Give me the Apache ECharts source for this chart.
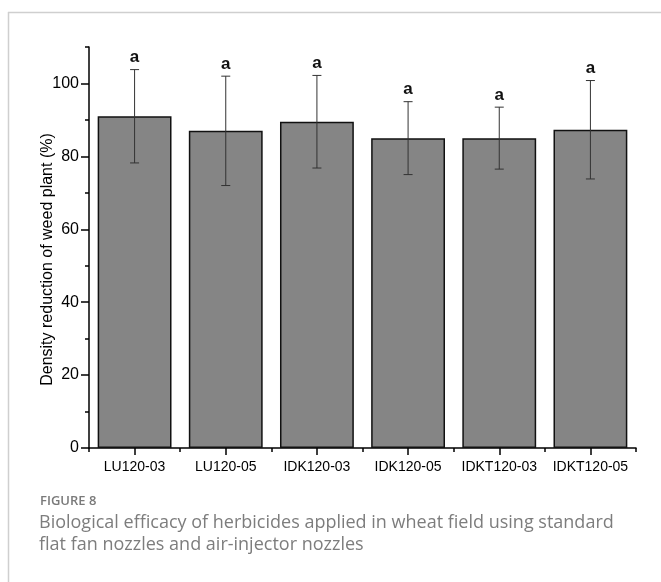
<!DOCTYPE html>
<html>
<head>
<meta charset="utf-8">
<script src="https://cdn.jsdelivr.net/npm/echarts@6/dist/echarts.min.js"></script>
<style>
  html, body { margin: 0; padding: 0; background: #fff; }
  #chart { width: 661px; height: 582px; }
</style>
</head>
<body>
<div id="chart"></div>
<script>
// data
var categories = ['LU120-03', 'LU120-05', 'IDK120-03', 'IDK120-05', 'IDKT120-03', 'IDKT120-05'];
var means = [91.0, 87.0, 89.5, 85.0, 85.0, 87.3];
var errors = [12.8, 15.0, 12.7, 10.0, 8.5, 13.5];
var letters = ['a', 'a', 'a', 'a', 'a', 'a'];
var yMajorTicks = [0, 20, 40, 60, 80, 100];
var yMinorTicks = [10, 30, 50, 70, 90, 110];

var errData = means.map(function (m, i) {
  return [i, m + errors[i], m - errors[i], letters[i]];
});

var font = '"Liberation Sans", Arial, sans-serif';

// error bar with caps and the group letter above it
function renderErr(params, api) {
  var x = api.value(0);
  var hi = api.coord([x, api.value(1)]);
  var lo = api.coord([x, api.value(2)]);
  var half = 4.5;
  var st = { stroke: '#333', lineWidth: 1 };
  return {
    type: 'group',
    children: [
      { type: 'line', shape: { x1: hi[0], y1: hi[1], x2: lo[0], y2: lo[1] }, style: st },
      { type: 'line', shape: { x1: hi[0] - half, y1: hi[1], x2: hi[0] + half, y2: hi[1] }, style: st },
      { type: 'line', shape: { x1: lo[0] - half, y1: lo[1], x2: lo[0] + half, y2: lo[1] }, style: st },
      {
        type: 'text',
        style: {
          x: hi[0], y: hi[1] - 12, text: api.value(3),
          align: 'center', verticalAlign: 'middle',
          font: 'bold 17px ' + font, fill: '#111'
        }
      }
    ]
  };
}

var chart = echarts.init(document.getElementById('chart'));
chart.setOption({
  animation: false,
  grid: { left: 89, right: 25, top: 47, bottom: 134 },
  xAxis: [{
    type: 'category',
    data: categories,
    axisLine: { lineStyle: { color: '#000', width: 1.5 } },
    axisTick: { show: true, alignWithLabel: true, interval: 0, length: 7, lineStyle: { color: '#000', width: 1.5 } },
    axisLabel: { interval: 0, color: '#000', fontFamily: font, fontSize: 14, margin: 12 }
  }, {
    type: 'category',
    data: categories,
    position: 'bottom',
    axisLine: { show: false },
    axisTick: { show: true, interval: 0, length: 4, lineStyle: { color: '#000', width: 1.5 } },
    axisLabel: { show: false }
  }],
  yAxis: [{
    type: 'value',
    min: 0, max: 110, interval: 10,
    name: 'Density reduction of weed plant (%)',
    nameLocation: 'middle',
    nameGap: 33,
    nameMoveOverlap: false,
    nameTextStyle: { color: '#000', fontFamily: font, fontSize: 16, padding: [0, 24, 0, 0] },
    axisLine: { show: true, lineStyle: { color: '#000', width: 1.5 } },
    axisTick: { show: true, length: 8, customValues: yMajorTicks, lineStyle: { color: '#000', width: 1.5 } },
    axisLabel: { customValues: yMajorTicks, color: '#000', fontFamily: font, fontSize: 16, margin: 10 },
    splitLine: { show: false }
  }, {
    type: 'value',
    position: 'left',
    min: 0, max: 110, interval: 10,
    axisLine: { show: false },
    axisTick: { show: true, length: 4, customValues: yMinorTicks, lineStyle: { color: '#000', width: 1.5 } },
    axisLabel: { show: false },
    splitLine: { show: false }
  }],
  series: [{
    type: 'bar',
    data: means,
    barWidth: '81%',
    itemStyle: { color: '#858585', borderColor: '#111', borderWidth: 1.5 }
  }, {
    type: 'custom',
    renderItem: renderErr,
    data: errData,
    z: 5
  }],
  graphic: [
    { type: 'line', shape: { x1: 8, y1: 12.5, x2: 661, y2: 12.5 }, style: { stroke: '#cfcfcf', lineWidth: 1.5 } },
    { type: 'line', shape: { x1: 8.5, y1: 12, x2: 8.5, y2: 582 }, style: { stroke: '#cfcfcf', lineWidth: 1.5 } },
    {
      type: 'text', left: 40, top: 495,
      style: { text: 'FIGURE 8', font: '600 13px "Open Sans", sans-serif', fill: '#7a7a7a' }
    },
    {
      type: 'text', left: 39, top: 512,
      style: {
        text: 'Biological efficacy of herbicides applied in wheat field using standard\nflat fan nozzles and air-injector nozzles',
        font: '18px "Open Sans", sans-serif', lineHeight: 22, fill: '#7d7d7d'
      }
    }
  ]
});
</script>
</body>
</html>
